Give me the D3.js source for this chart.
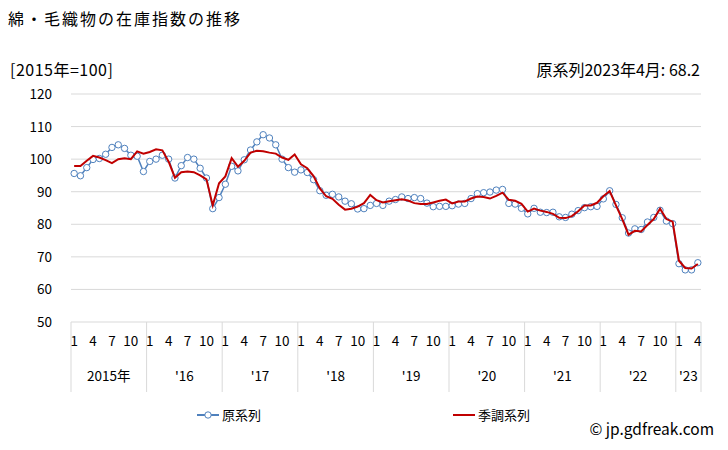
<!DOCTYPE html>
<html><head><meta charset="utf-8">
<script src="https://cdn.jsdelivr.net/npm/d3@7"></script>
<style>
body{margin:0;background:#fff;}
text{font-family:"Noto Sans CJK JP","Noto Sans",sans-serif;fill:#000;}
</style></head>
<body><svg id="c" width="728" height="450"></svg>
<script>
const years = [2015,2016,2017,2018,2019,2020,2021,2022,2023];
const yearLabels = ["2015年","'16","'17","'18","'19","'20","'21","'22","'23"];
const monthTickLabels = [1,4,7,10];
const yTicks = [50,60,70,80,90,100,110,120];
const original = [
 95.6,94.9,97.4,99.9,100.2,101.5,103.6,104.4,103.3,101.2,100.9,96.2,
 99.3,100.0,101.2,100.0,94.2,98.0,100.5,100.0,97.2,94.2,84.8,88.2,
 92.3,97.8,96.4,99.8,102.8,105.3,107.5,106.5,104.4,100.0,97.4,96.0,
 96.7,95.9,93.7,90.3,88.9,89.2,88.4,87.1,86.3,84.7,84.8,85.8,
 86.4,85.8,87.1,87.6,88.4,87.9,88.2,87.9,86.5,85.4,85.5,85.5,
 85.7,86.2,86.4,87.9,89.4,89.7,89.9,90.5,90.7,86.4,86.2,84.9,
 83.2,84.9,83.7,83.6,83.7,82.3,82.1,83.1,84.2,85.1,85.4,85.5,
 87.8,90.3,86.1,82.0,77.3,78.6,78.4,80.7,82.1,84.3,81.0,80.2,
 67.9,66.0,66.0,68.2];
const seasonal = [
 97.9,97.9,99.5,101.0,100.5,99.7,98.8,100.0,100.3,100.0,102.4,101.7,
 102.2,103.0,102.7,99.2,94.3,96.0,96.2,96.0,95.0,93.8,85.8,92.6,
 94.7,100.3,97.7,99.5,102.0,102.6,102.4,102.0,101.7,100.5,99.8,101.4,
 98.4,97.2,94.8,91.0,88.6,87.8,86.0,84.5,84.8,85.4,86.5,89.0,
 87.4,86.7,87.1,87.4,87.7,87.3,86.5,86.2,86.2,86.7,87.2,87.6,
 86.4,87.0,87.0,87.9,88.5,88.4,87.9,88.7,89.7,87.5,87.2,86.3,
 83.9,84.8,84.2,83.8,83.2,82.0,81.9,82.5,84.0,85.8,85.8,86.6,
 88.6,90.2,85.8,81.6,76.8,78.0,77.8,79.8,81.6,84.8,81.6,80.8,
 68.8,66.6,66.4,67.8];

const months = original.map((d,i)=>({y:2015+Math.floor(i/12), m:i%12+1, i}));
const svg = d3.select("#c");
const L=71, R=701, T=94, B=322;
const x = d3.scaleBand().domain(months.map(d=>d.i)).range([L,R]);
const y = d3.scaleLinear().domain([50,120]).range([B,T]);
const cx = i => x(i)+x.bandwidth()/2;

// gridlines
svg.append("g").selectAll("line").data(yTicks.filter(t=>t>50)).join("line")
 .attr("x1",L).attr("x2",R).attr("y1",d=>y(d)).attr("y2",d=>y(d))
 .attr("stroke","#d9d9d9").attr("stroke-width",1);
// y labels
svg.append("g").selectAll("text").data(yTicks).join("text")
 .attr("x",52).attr("y",d=>y(d)+5).attr("text-anchor","end")
 .attr("font-size",13.5).text(d=>d);

// x axis baseline and separators
svg.append("line").attr("x1",L).attr("x2",R).attr("y1",B).attr("y2",B).attr("stroke","#d9d9d9");
const yearStarts = years.map(yr=>x((yr-2015)*12));
const seps = yearStarts.concat([R]);
svg.append("g").selectAll("line").data(seps).join("line")
 .attr("x1",d=>d).attr("x2",d=>d).attr("y1",B).attr("y2",392)
 .attr("stroke","#d9d9d9");
// month labels
svg.append("g").selectAll("text").data(months.filter(d=>monthTickLabels.includes(d.m))).join("text")
 .attr("x",d=>cx(d.i)).attr("y",346).attr("text-anchor","middle").attr("font-size",13.5)
 .text(d=>d.m);
// year labels
svg.append("g").selectAll("text").data(years).join("text")
 .attr("x",(d,k)=>(seps[k]+seps[k+1])/2).attr("y",381).attr("text-anchor","middle").attr("font-size",13.5)
 .text((d,k)=>yearLabels[k]);

// lines
const line = arr => d3.line().x((d,i)=>cx(i)).y(d=>y(d))(arr);
svg.append("path").attr("d",line(original)).attr("fill","none").attr("stroke","#4f81bd").attr("stroke-width",1.5);
svg.append("g").selectAll("circle").data(original).join("circle")
 .attr("cx",(d,i)=>cx(i)).attr("cy",d=>y(d)).attr("r",3.2)
 .attr("fill","#fff").attr("stroke","#4f81bd").attr("stroke-width",1);
svg.append("path").attr("d",line(seasonal)).attr("fill","none").attr("stroke","#c00000").attr("stroke-width",2);

// titles
svg.append("text").attr("x",8).attr("y",25).attr("font-size",16).attr("letter-spacing",2).text("綿・毛織物の在庫指数の推移");
svg.append("text").attr("x",10).attr("y",76).attr("font-size",16).attr("letter-spacing",0.5).text("[2015年=100]");
svg.append("text").attr("x",700).attr("y",76).attr("text-anchor","end").attr("font-size",16).text("原系列2023年4月: 68.2");

// legend
const lg = svg.append("g");
lg.append("line").attr("x1",197).attr("x2",219).attr("y1",415).attr("y2",415).attr("stroke","#4f81bd").attr("stroke-width",2);
lg.append("circle").attr("cx",208).attr("cy",415).attr("r",3.2).attr("fill","#fff").attr("stroke","#4f81bd");
lg.append("text").attr("x",222).attr("y",420).attr("font-size",13).text("原系列");
lg.append("line").attr("x1",453).attr("x2",475).attr("y1",415).attr("y2",415).attr("stroke","#c00000").attr("stroke-width",2);
lg.append("text").attr("x",478).attr("y",420).attr("font-size",13).text("季調系列");

svg.append("text").attr("x",714).attr("y",435).attr("text-anchor","end").attr("font-size",15.5).text("© jp.gdfreak.com");
</script></body></html>
